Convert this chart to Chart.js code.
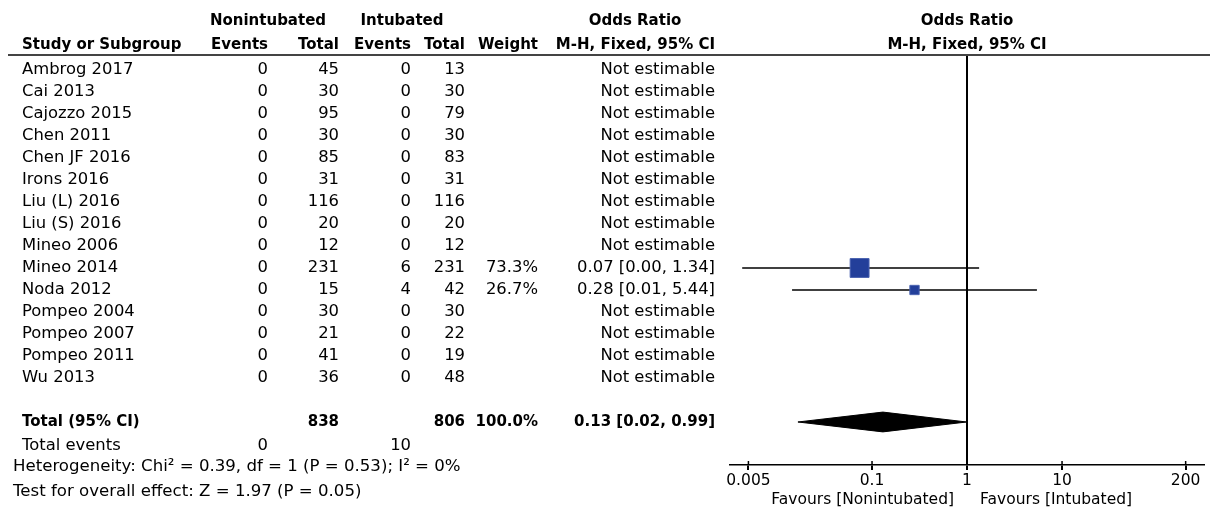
<!DOCTYPE html>
<html>
<head>
<meta charset="utf-8">
<script src="https://cdn.jsdelivr.net/npm/chart.js@4.4.0/dist/chart.umd.min.js"></script>
<style>
  html, body { margin: 0; padding: 0; background: #fff; overflow: hidden; }
  #wrap { position: relative; width: 1210px; height: 509px; }
</style>
</head>
<body>
<div id="wrap"><canvas id="forest"></canvas></div>
<script>
// --- data ---
const studies = ['Ambrog 2017', 'Cai 2013', 'Cajozzo 2015', 'Chen 2011', 'Chen JF 2016', 'Irons 2016',
    'Liu (L) 2016', 'Liu (S) 2016', 'Mineo 2006', 'Mineo 2014', 'Noda 2012', 'Pompeo 2004',
    'Pompeo 2007', 'Pompeo 2011', 'Wu 2013'];
const nonEvents = [0, 0, 0, 0, 0, 0, 0, 0, 0, 0, 0, 0, 0, 0, 0];
const nonTotal = [45, 30, 95, 30, 85, 31, 116, 20, 12, 231, 15, 30, 21, 41, 36];
const intEvents = [0, 0, 0, 0, 0, 0, 0, 0, 0, 6, 4, 0, 0, 0, 0];
const intTotal = [13, 30, 79, 30, 83, 31, 116, 20, 12, 231, 42, 30, 22, 19, 48];
const weights = [null, null, null, null, null, null, null, null, null, 73.3, 26.7, null, null, null, null];
const oddsRatio = [null, null, null, null, null, null, null, null, null, 0.074, 0.28, null, null, null, null];
const ciLow = [null, null, null, null, null, null, null, null, null, 0.0043, 0.0144, null, null, null, null];
const ciHigh = [null, null, null, null, null, null, null, null, null, 1.34, 5.44, null, null, null, null];
const totalOR = 0.13, totalLow = 0.0166, totalHigh = 0.99;
const xTicks = [0.005, 0.1, 1, 10, 200];
const xMin = 0.0032, xMax = 312;
const heterogeneity = 'Heterogeneity: Chi\u00B2 = 0.39, df = 1 (P = 0.53); I\u00B2 = 0%';
const overallTest = 'Test for overall effect: Z = 1.97 (P = 0.05)';

const sum = arr => arr.reduce((a, b) => a + b, 0);
const totalRow = studies.length + 1;
const FONT = '"DejaVu Sans", sans-serif';
const INK = '#000';

// study CI lines (drawn underneath the squares)
const datasets = [];
studies.forEach((s, i) => {
    if (oddsRatio[i] == null) return;
    datasets.push({
        data: [{ x: ciLow[i], y: i }, { x: ciHigh[i], y: i }],
        showLine: true, borderColor: '#000', borderWidth: 1.5, pointRadius: 0, order: 2
    });
});
// weighted squares
datasets.push({
    data: studies.map((s, i) => oddsRatio[i] == null ? null : { x: oddsRatio[i], y: i }).filter(p => p),
    pointStyle: 'rect',
    pointRadius: studies.map((s, i) => weights[i]).filter(w => w != null).map(w => 0.66 * Math.pow(w, 0.7)),
    backgroundColor: '#233f9a', borderColor: '#4a62b0', borderWidth: 1, order: 0
});
// pooled diamond
const dh = 0.45;
datasets.push({
    data: [{ x: totalLow, y: totalRow }, { x: totalOR, y: totalRow - dh }, { x: totalHigh, y: totalRow },
        { x: totalOR, y: totalRow + dh }, { x: totalLow, y: totalRow }],
    showLine: true, fill: 'shape', backgroundColor: '#000', borderColor: '#000', borderWidth: 1, pointRadius: 0, order: 1
});

// table text drawn against the y scale
const tablePlugin = {
    id: 'table',
    afterDraw(chart) {
        const ctx = chart.ctx;
        const ys = chart.scales.y, xs = chart.scales.x;
        const Y = r => ys.getPixelForValue(r);
        const txt = (s, x, y, align, bold, size) => {
            ctx.font = (bold ? 'bold ' : '') + (size || (bold ? 15 : 16.4)) + 'px ' + FONT;
            ctx.textAlign = align;
            ctx.fillText(s, x, y);
        };
        ctx.save();
        ctx.fillStyle = INK;
        ctx.textBaseline = 'middle';
        // headers
        const h1 = Y(-2.2), h2 = Y(-1.15);
        txt('Nonintubated', 268, h1, 'center', true);
        txt('Intubated', 402, h1, 'center', true);
        txt('Odds Ratio', 635, h1, 'center', true);
        txt('Odds Ratio', xs.getPixelForValue(1), h1, 'center', true);
        txt('Study or Subgroup', 22, h2, 'left', true);
        txt('Events', 268, h2, 'right', true);
        txt('Total', 339, h2, 'right', true);
        txt('Events', 411, h2, 'right', true);
        txt('Total', 465, h2, 'right', true);
        txt('Weight', 538, h2, 'right', true);
        txt('M-H, Fixed, 95% CI', 715, h2, 'right', true);
        txt('M-H, Fixed, 95% CI', xs.getPixelForValue(1), h2, 'center', true);
        // rows
        studies.forEach((s, i) => {
            const y = Y(i);
            txt(s, 22, y, 'left');
            txt(String(nonEvents[i]), 268, y, 'right');
            txt(String(nonTotal[i]), 339, y, 'right');
            txt(String(intEvents[i]), 411, y, 'right');
            txt(String(intTotal[i]), 465, y, 'right');
            if (weights[i] != null) txt(weights[i].toFixed(1) + '%', 538, y, 'right');
            const orText = oddsRatio[i] == null ? 'Not estimable'
                : oddsRatio[i].toFixed(2) + ' [' + ciLow[i].toFixed(2) + ', ' + ciHigh[i].toFixed(2) + ']';
            txt(orText, 715, y, 'right');
        });
        // totals
        const ty = Y(totalRow);
        txt('Total (95% CI)', 22, ty, 'left', true);
        txt(String(sum(nonTotal)), 339, ty, 'right', true);
        txt(String(sum(intTotal)), 465, ty, 'right', true);
        txt(sum(weights.filter(w => w != null)).toFixed(1) + '%', 538, ty, 'right', true);
        txt(totalOR.toFixed(2) + ' [' + totalLow.toFixed(2) + ', ' + totalHigh.toFixed(2) + ']', 715, ty, 'right', true);
        const ey = Y(totalRow + 1.1);
        txt('Total events', 22, ey, 'left');
        txt(String(sum(nonEvents)), 268, ey, 'right');
        txt(String(sum(intEvents)), 411, ey, 'right');
        txt(heterogeneity, 13, Y(totalRow + 2.05), 'left', false, 16.6);
        txt(overallTest, 13, Y(totalRow + 3.15), 'left', false, 16.6);
        // favours labels under the axis
        const x1 = xs.getPixelForValue(1);
        txt('Favours [Nonintubated]', x1 - 13, 500, 'right', false, 15.5);
        txt('Favours [Intubated]', x1 + 13, 500, 'left', false, 15.5);
        // header rule
        ctx.strokeStyle = '#444';
        ctx.lineWidth = 2;
        ctx.beginPath();
        ctx.moveTo(8, 55);
        ctx.lineTo(1210, 55);
        ctx.stroke();
        // small upward tick marks on the axis
        ctx.strokeStyle = '#000';
        ctx.lineWidth = 1.5;
        xTicks.forEach(v => {
            const px = xs.getPixelForValue(v);
            ctx.beginPath();
            ctx.moveTo(px, chart.chartArea.bottom);
            ctx.lineTo(px, chart.chartArea.bottom - 4);
            ctx.stroke();
        });
        ctx.restore();
    }
};

new Chart(document.getElementById('forest').getContext('2d'), {
    type: 'scatter',
    data: { datasets: datasets },
    options: {
        responsive: true,
        maintainAspectRatio: false,
        animation: false,
        layout: { autoPadding: false, padding: { left: 730, right: 6, top: 56, bottom: 0 } },
        scales: {
            x: {
                type: 'logarithmic',
                min: xMin,
                max: xMax,
                afterBuildTicks: scale => { scale.ticks = xTicks.map(v => ({ value: v })); },
                afterFit: scale => {
                    scale.height = 44;
                    scale.paddingLeft = 0;
                    scale.paddingRight = 0;
                },
                ticks: {
                    callback: v => String(v),
                    color: '#000',
                    font: { family: FONT, size: 15.5 },
                    padding: 2,
                    maxRotation: 0,
                    autoSkip: false
                },
                grid: {
                    color: c => (c.tick && c.tick.value === 1) ? '#000' : 'rgba(0,0,0,0)',
                    lineWidth: 2,
                    tickColor: '#000',
                    tickLength: 5
                },
                border: { display: true, color: '#000', width: 1.5 }
            },
            y: {
                type: 'linear',
                reverse: true,
                display: false,
                min: -0.636,
                max: 17.955
            }
        },
        plugins: {
            legend: { display: false },
            tooltip: { enabled: false }
        }
    },
    plugins: [tablePlugin]
});
</script>
</body>
</html>
